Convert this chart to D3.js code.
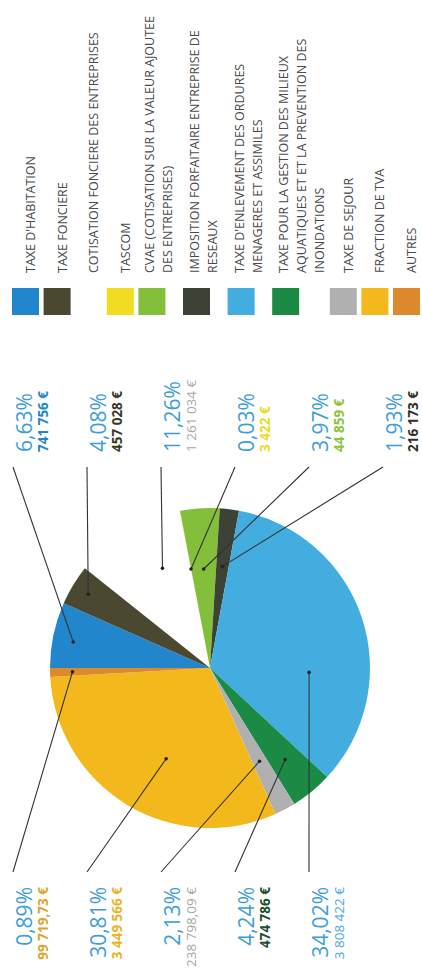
<!DOCTYPE html>
<html>
<head>
<meta charset="utf-8">
<script src="https://cdn.jsdelivr.net/npm/d3@7"></script>
<style>
  body { margin: 0; background: #ffffff; }
  svg { display: block; }
</style>
</head>
<body>
<svg id="chart" width="422" height="973"></svg>
<script>
// Répartition des recettes fiscales (en % du total)
const categories = [
  "TAXE D'HABITATION",
  "TAXE FONCIERE",
  "COTISATION FONCIERE DES ENTREPRISES",
  "TASCOM",
  "CVAE (COTISATION SUR LA VALEUR AJOUTEE DES ENTREPRISES)",
  "IMPOSITION FORFAITAIRE ENTREPRISE DE RESEAUX",
  "TAXE D'ENLEVEMENT DES ORDURES MENAGERES ET ASSIMILES",
  "TAXE POUR LA GESTION DES MILIEUX AQUATIQUES ET ET LA PREVENTION DES INONDATIONS",
  "TAXE DE SEJOUR",
  "FRACTION DE TVA",
  "AUTRES"
];
const legendLines = [
  ["TAXE D'HABITATION"],
  ["TAXE FONCIERE"],
  ["COTISATION FONCIERE DES ENTREPRISES"],
  ["TASCOM"],
  ["CVAE (COTISATION SUR LA VALEUR AJOUTEE", "DES ENTREPRISES)"],
  ["IMPOSITION FORFAITAIRE ENTREPRISE DE", "RESEAUX"],
  ["TAXE D'ENLEVEMENT DES ORDURES", "MENAGERES ET ASSIMILES"],
  ["TAXE POUR LA GESTION DES MILIEUX", "AQUATIQUES ET ET LA PREVENTION DES", "INONDATIONS"],
  ["TAXE DE SEJOUR"],
  ["FRACTION DE TVA"],
  ["AUTRES"]
];
const percents = [6.63, 4.08, 11.26, 0.03, 3.97, 1.93, 34.02, 4.24, 2.13, 30.81, 0.89];
const amountLabels = [
  "741 756 €", "457 028 €", "1 261 034 €", "3 422 €", "44 859 €", "216 173 €",
  "3 808 422 €", "474 786 €", "238 798,09 €", "3 449 566 €", "99 719,73 €"
];

// Couleurs des parts (la CFE n'a pas d'aplat)
const sliceColors = [
  "#2286cc", "#4a4830", null, "#f2dc22", "#84bf3c", "#3d4236",
  "#43ade0", "#1b8a45", "#b0b0b0", "#f3b91c", "#dd8a2c"
];
const amountColors = [
  "#1f86c9", "#3a3626", "#a8a8a8", "#eedb1e", "#8cc43c", "#2f302a",
  "#4aa6da", "#1d4f2d", "#a6a6a6", "#e9b42a", "#dca52e"
];
const amountBold = [true, true, false, true, true, true, false, true, false, true, true];

// Étiquettes : côté (haut / bas de la page) et colonne
const labelSide = ["top", "top", "top", "top", "top", "top", "bottom", "bottom", "bottom", "bottom", "bottom"];
const labelColumn = [0, 1, 2, 3, 4, 5, 4, 3, 2, 1, 0];
// Point d'attache des traits : position dans la part (0..1) et rayon relatif
const leaderT = [0.45, 0.5, 0.64, 0.5, 0.5, 0.5, 0.67, 0.5, 0.5, 0.45, 0.5];
const leaderR = [0.87, 0.89, 0.69, 0.63, 0.62, 0.64, 0.62, 0.74, 0.66, 0.63, 0.86];

const W = 973;   // repère « à plat », tourné d'un quart de tour dans la page
const svg = d3.select("#chart");
const g = svg.append("g").attr("transform", `translate(0,${W}) rotate(-90)`);

const cx = 305, cy = 210, R = 160;
const pie = d3.pie().sort(null).value(d => d)(percents);
const arc = d3.arc().innerRadius(0).outerRadius(R);

const pieG = g.append("g").attr("transform", `translate(${cx},${cy})`);
pieG.selectAll("path")
  .data(pie)
  .join("path")
  .attr("d", arc)
  .attr("fill", (d, i) => sliceColors[i] || "none");

// Colonnes d'étiquettes
const col = d3.scaleLinear().domain([0, 5]).range([15, 385]);
const pctFmt = v => d3.format(".2f")(v).replace(".", ",") + "%";

function anchorPoint(d, i) {
  const a = d.startAngle + (d.endAngle - d.startAngle) * leaderT[i];
  const r = R * leaderR[i];
  return [cx + Math.sin(a) * r, cy - Math.cos(a) * r];
}

const lbl = g.append("g");
pie.forEach((d, i) => {
  const top = labelSide[i] === "top";
  const v = col(labelColumn[i]);
  const [px, py] = anchorPoint(d, i);
  const lx = top ? 506 : 101;
  lbl.append("line")
    .attr("x1", lx).attr("y1", v - 2)
    .attr("x2", px).attr("y2", py)
    .attr("stroke", "#333").attr("stroke-width", 1.1);
  lbl.append("circle").attr("cx", px).attr("cy", py).attr("r", 1.8).attr("fill", "#222");

  const tx = top ? 521 : 86;
  const anchor = top ? "start" : "end";
  lbl.append("text")
    .attr("x", tx).attr("y", v + 16.5)
    .attr("text-anchor", anchor)
    .attr("font-family", "'Open Sans', sans-serif")
    .attr("font-weight", 400)
    .attr("font-size", 21)
    .attr("fill", "#3d9ed9")
    .text(pctFmt(percents[i]));
  lbl.append("text")
    .attr("x", tx).attr("y", v + 32.5)
    .attr("text-anchor", anchor)
    .attr("font-family", "'Open Sans', sans-serif")
    .attr("font-weight", amountBold[i] ? 700 : 400)
    .attr("font-size", 13.5)
    .attr("fill", amountColors[i])
    .text(amountLabels[i]);
});

// Légende
const legend = g.append("g");
let rowTop = 12;
categories.forEach((c, i) => {
  const lines = legendLines[i];
  const n = lines.length;
  const row = legend.append("g");
  if (sliceColors[i]) {
    row.append("rect")
      .attr("x", 658).attr("y", rowTop)
      .attr("width", 27).attr("height", 27)
      .attr("fill", sliceColors[i]);
  }
  const first = n === 1 ? rowTop + 23 : rowTop + 16;
  lines.forEach((t, k) => {
    row.append("text")
      .attr("x", 700).attr("y", first + k * 18)
      .attr("font-family", "'Open Sans', sans-serif")
      .attr("font-size", 12.5)
      .attr("fill", "#4a4a4a")
      .text(t);
  });
  rowTop += 31.6 + 13 * (n - 1);
});
</script>
</body>
</html>
